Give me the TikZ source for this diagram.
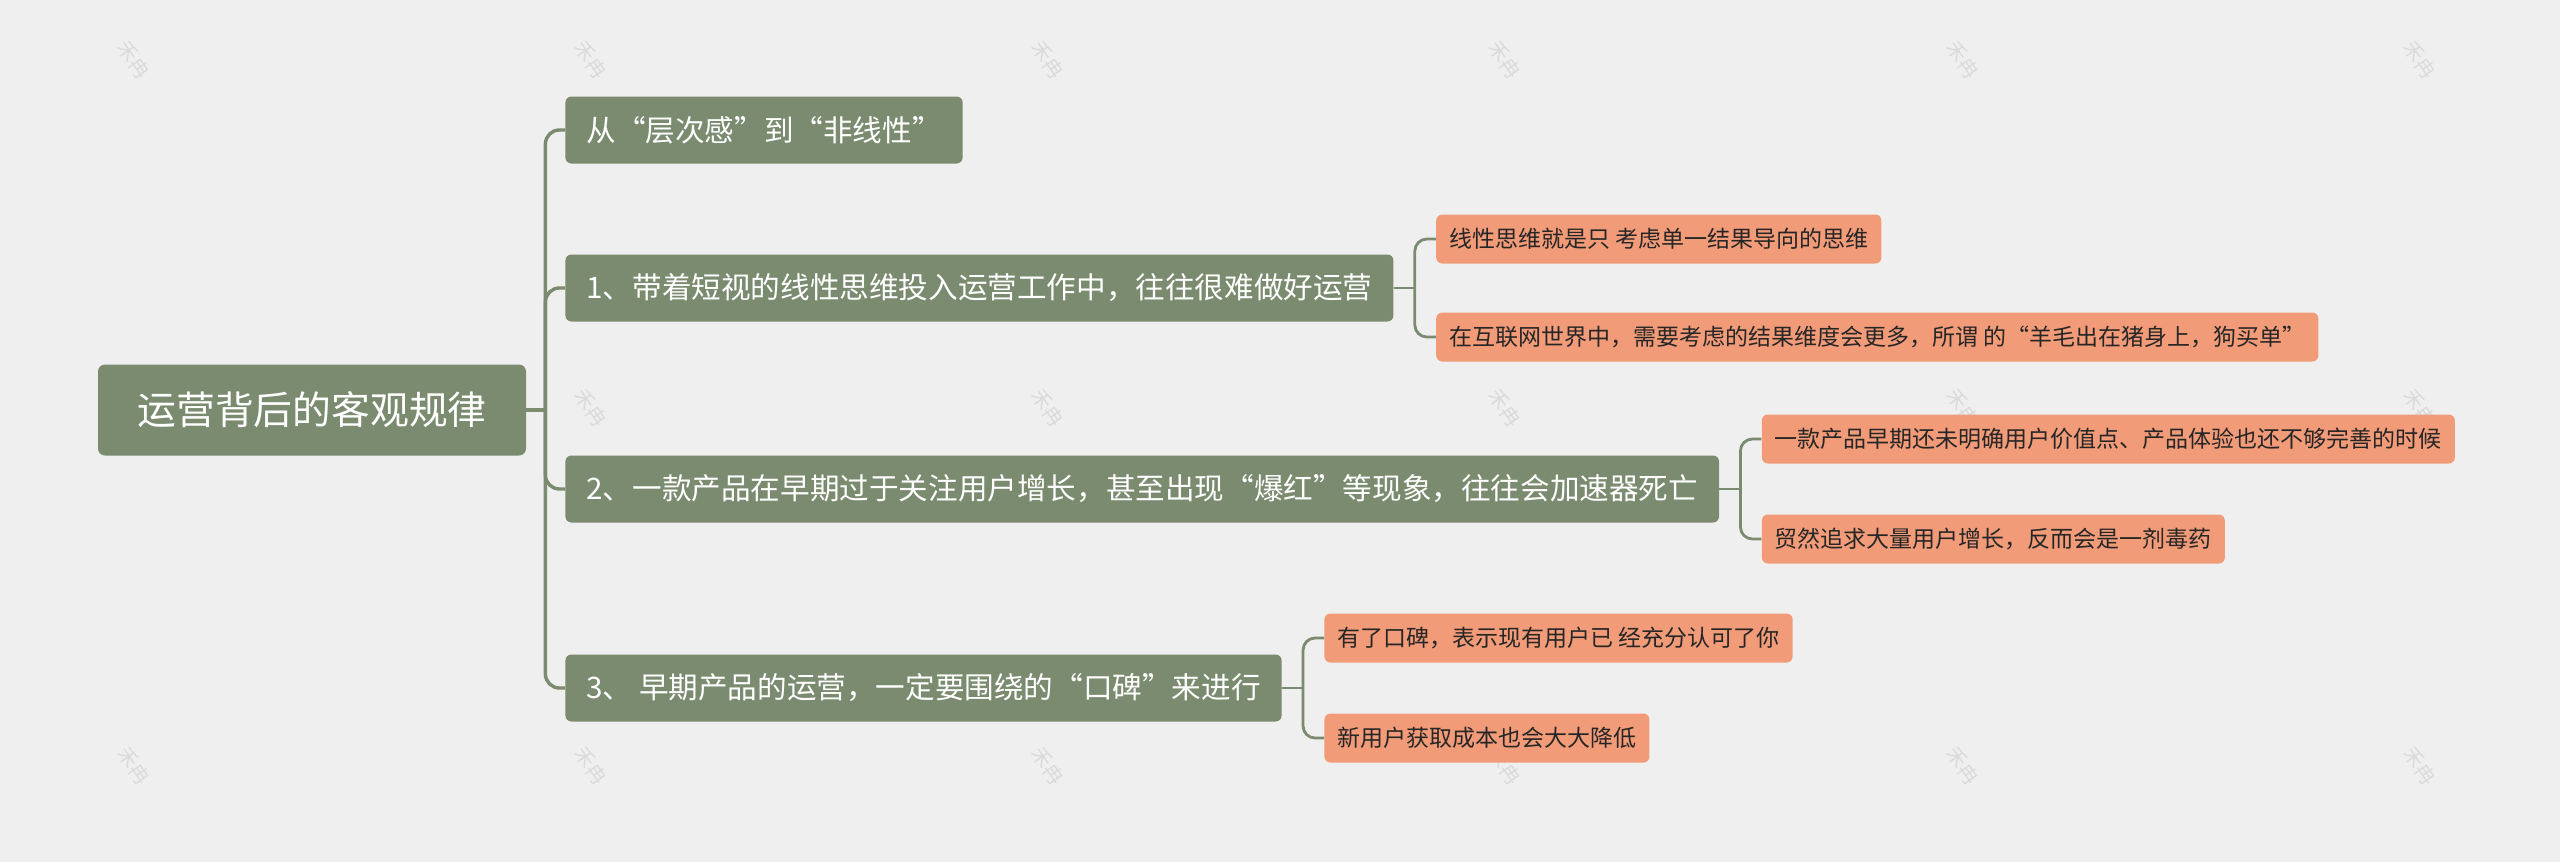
\documentclass[tikz,border=0pt]{standalone}
\usepackage{fontspec}
\setmainfont{Noto Sans CJK SC}
\usetikzlibrary{calc}
\definecolor{paper}{HTML}{EFEFEF}
\definecolor{sage}{HTML}{7A8B6F}
\definecolor{salmon}{HTML}{F29B78}
\definecolor{wmark}{HTML}{DADADA}

\begin{document}
\begin{tikzpicture}[x=0.5pt,y=-0.5pt,
    root/.style={fill=sage,text=white,rounded corners=3.5pt,minimum width=214pt,minimum height=45.5pt,font=\fontsize{19.4}{22}\selectfont},
    topic/.style={fill=sage,text=white,rounded corners=3pt,anchor=west,inner xsep=10.5pt,minimum height=33.5pt,font=\fontsize{14.8}{17}\selectfont},
    leaf/.style={fill=salmon,text=black!85,rounded corners=3pt,anchor=west,inner xsep=6.5pt,minimum height=24.5pt,font=\fontsize{11.5}{13}\selectfont},
    trunk/.style={draw=sage,line width=1.7pt},
    twig/.style={draw=sage,line width=1.4pt},
    stamp/.style={text=wmark,rotate=-55,font=\fontsize{10}{12}\selectfont}]
    \fill[paper] (0,0) rectangle (2560,862);
    \foreach \wx/\wy in {134/60,591/60,1048/60,1505/60,1963/60,2420/60,
      591/408,1048/408,1505/408,1963/408,2420/408,
      134/766,591/766,1048/766,1505/766,1963/766,2420/766}
        \node[stamp] at (\wx,\wy) {禾冉};
    \node[root] (root) at (312,410) {运营背后的客观规律};
    \node[topic] (t0) at (565,130) {从“层次感”到“非线性”};
    \node[topic] (t1) at (565,288) {1、带着短视的线性思维投入运营工作中，往往很难做好运营};
    \node[topic] (t2) at (565,489) {2、一款产品在早期过于关注用户增长，甚至出现“爆红”等现象，往往会加速器死亡};
    \node[topic] (t3) at (565,688) {3、 早期产品的运营，一定要围绕的“口碑”来进行};
    \node[leaf] (l1a) at ($(t1.east)+(42,-49)$) {线性思维就是只 考虑单一结果导向的思维};
    \node[leaf] (l1b) at ($(t1.east)+(42,49)$) {在互联网世界中，需要考虑的结果维度会更多，所谓 的“羊毛出在猪身上，狗买单”};
    \node[leaf] (l2a) at ($(t2.east)+(42,-50)$) {一款产品早期还未明确用户价值点、产品体验也还不够完善的时候};
    \node[leaf] (l2b) at ($(t2.east)+(42,50)$) {贸然追求大量用户增长，反而会是一剂毒药};
    \node[leaf] (l3a) at ($(t3.east)+(42,-50)$) {有了口碑，表示现有用户已 经充分认可了你};
    \node[leaf] (l3b) at ($(t3.east)+(42,50)$) {新用户获取成本也会大大降低};
    \coordinate (j0) at ($(root.east)+(19,0)$);
    \draw[trunk] (root.east) -- (j0);
    \foreach \t in {t0,t1,t2,t3}
      \draw[trunk,rounded corners=7pt] (j0) |- (\t.west);
    \foreach \t/\a/\b in {t1/l1a/l1b,t2/l2a/l2b,t3/l3a/l3b} {
      \coordinate (j\t) at ($(\t.east)+(21,0)$);
      \draw[twig] (\t.east) -- (j\t);
      \draw[twig,rounded corners=6pt] (j\t) |- (\a.west);
      \draw[twig,rounded corners=6pt] (j\t) |- (\b.west);
    }
\end{tikzpicture}
\end{document}
